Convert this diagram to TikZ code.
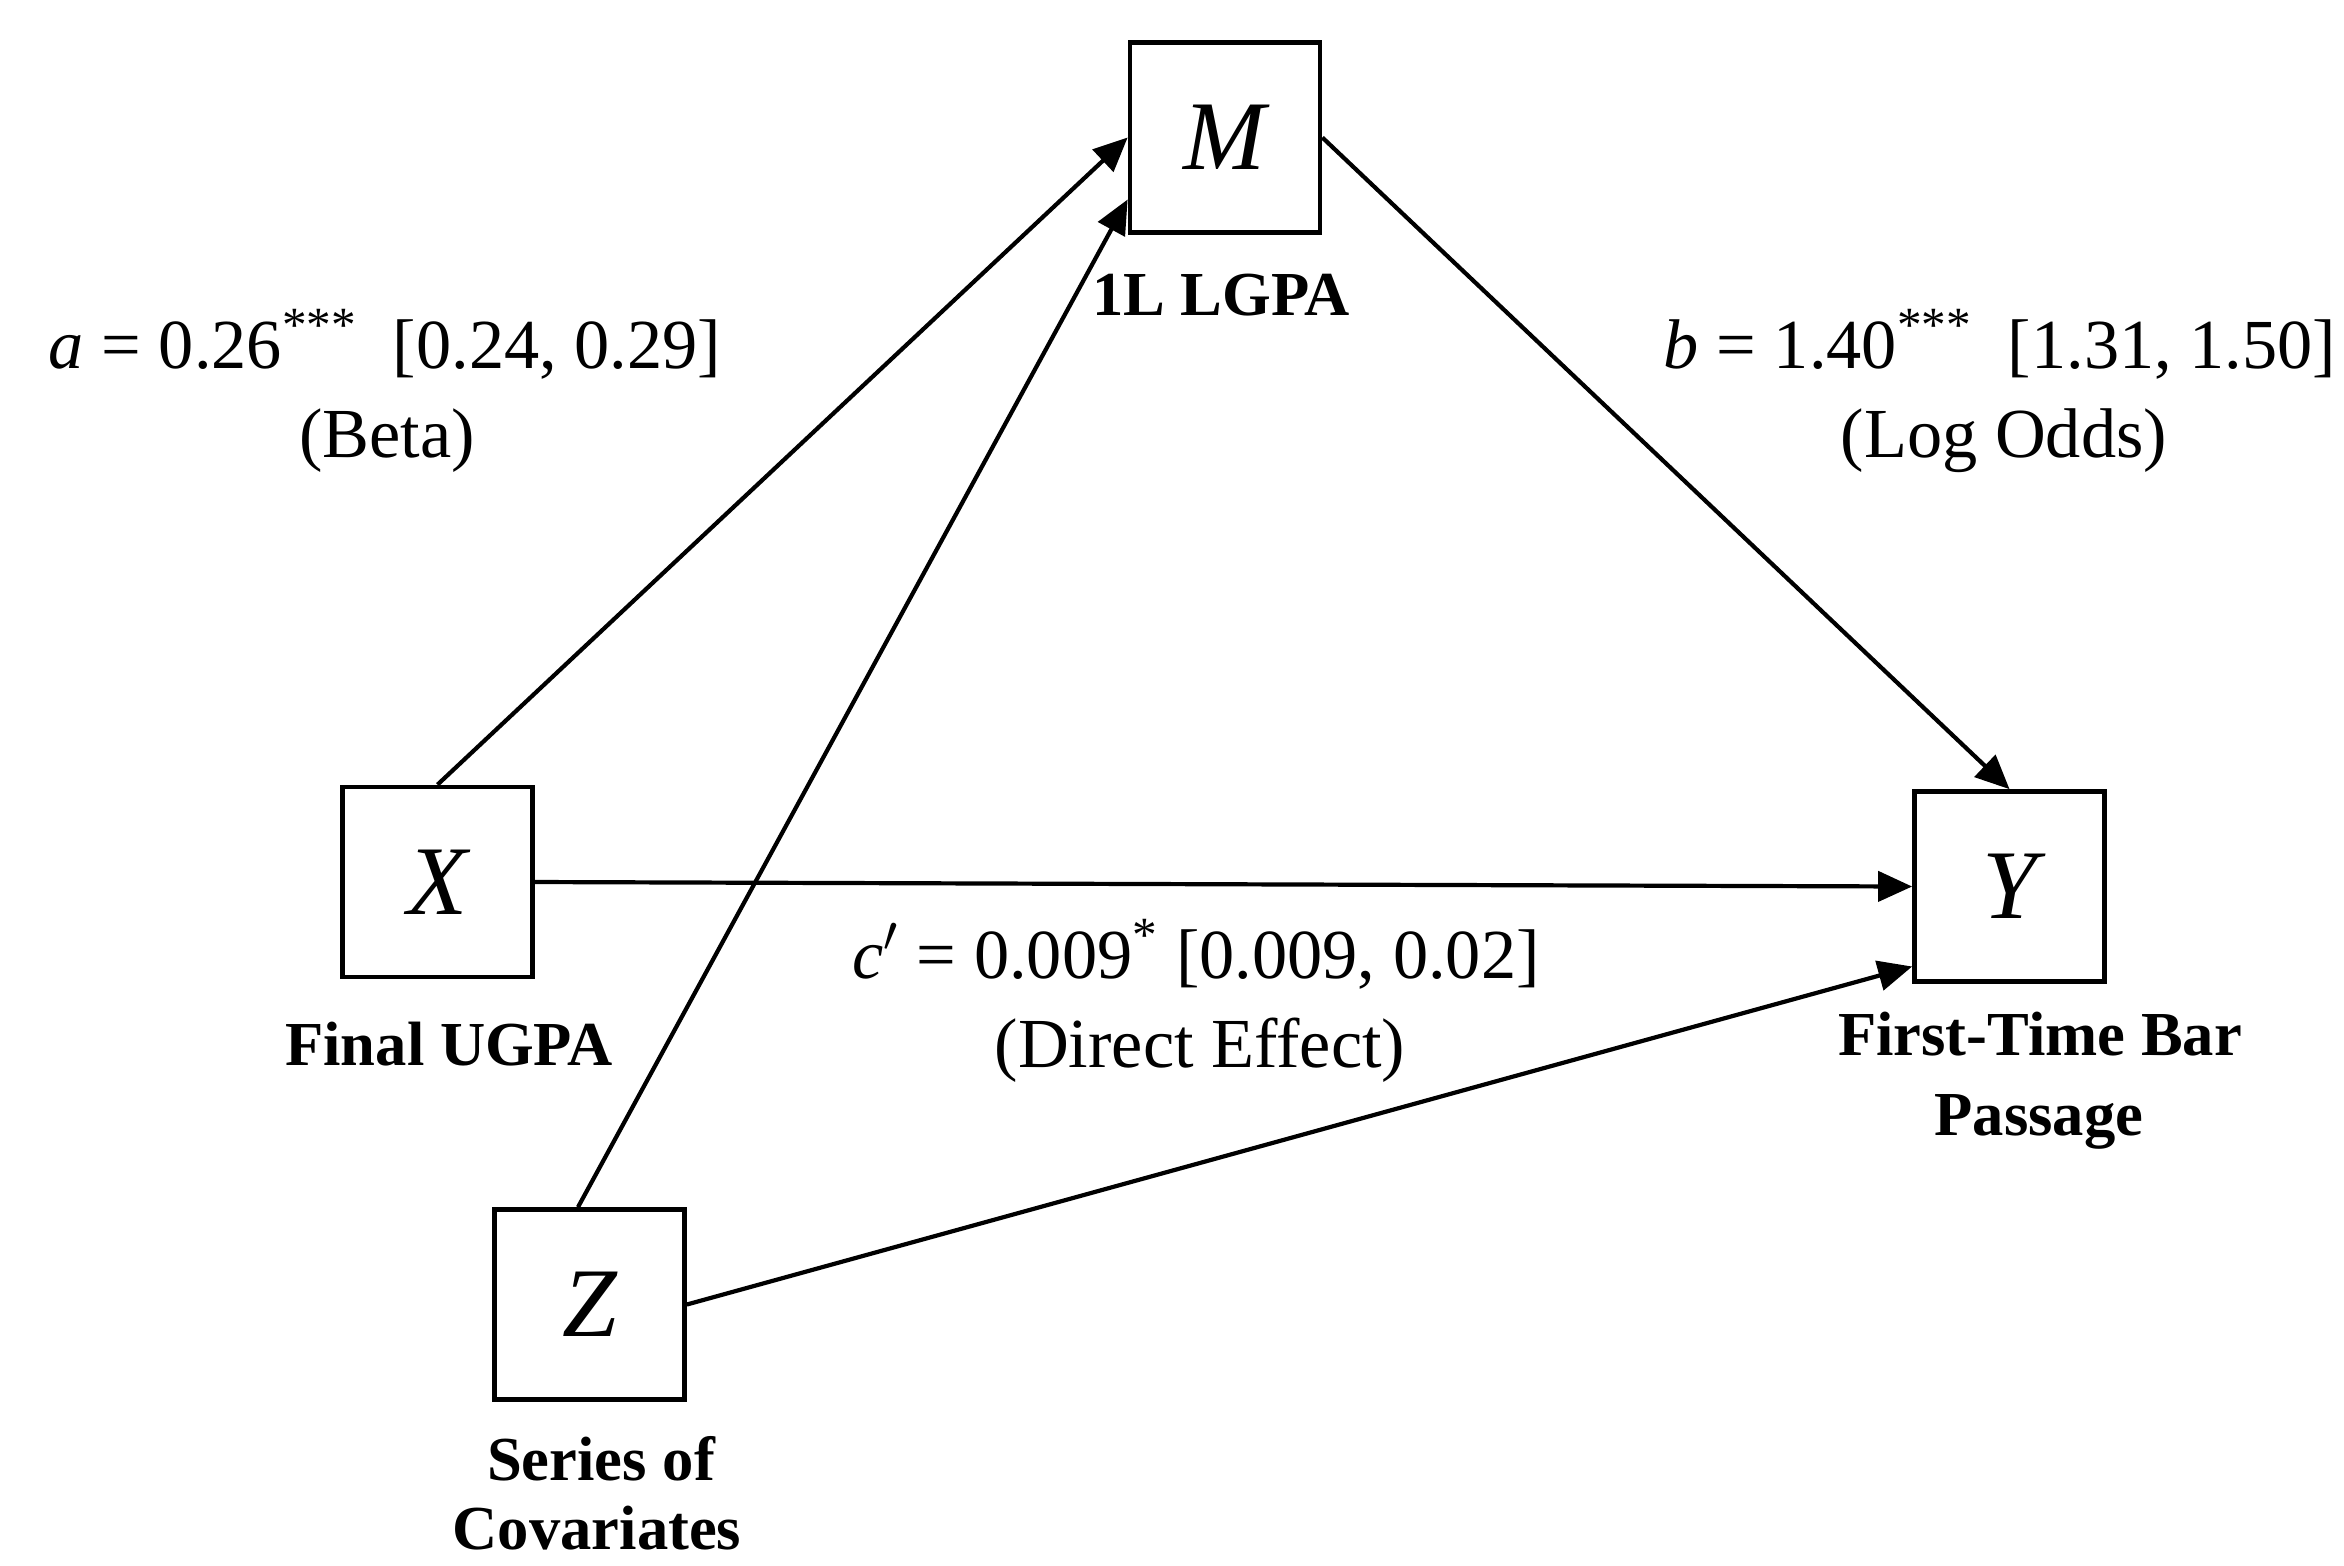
\documentclass[tikz,border=0pt]{standalone}
\usepackage{fontspec}
\setmainfont{Liberation Serif}
\usetikzlibrary{arrows.meta,calc}
\begin{document}
\begin{tikzpicture}[x=0.01cm,y=-0.01cm,
  var/.style={draw, line width=0.046cm, minimum size=1.9cm, inner sep=0pt, font=\fontsize{28}{30}\selectfont\itshape},
  lbl/.style={inner sep=0pt, anchor=base, font=\fontsize{17.8}{20}\selectfont\bfseries},
  coef/.style={inner sep=0pt, anchor=base, font=\fontsize{20}{24}\selectfont},
  link/.style={line width=0.042cm, -{Triangle[length=0.34cm,width=0.3cm]}}]
\useasboundingbox (0,0) rectangle (2344,1565);
\node[var] (M) at (1225,137.5) {M};
\node[var] (X) at (437.5,882) {X};
\node[var] (Y) at (2009.5,886.5) {Y};
\node[var] (Z) at (589.5,1304.5) {Z};
\node[lbl] (Ml) at (1221,315) {1L LGPA};
\node[lbl] (Xl) at (449,1065) {Final UGPA};
\node[lbl] (Yl1) at (2040,1055) {First-Time Bar};
\node[lbl] (Yl2) at (2039,1135) {Passage};
\node[lbl] (Zl1) at (601,1480) {Series of};
\node[lbl] (Zl2) at (597,1549) {Covariates};
\node[coef] (a1) at (385,368) {\textit{a} = 0.26\textsuperscript{***}\ \ [0.24,\ 0.29]};
\node[coef] (a2) at (387,457) {(Beta)};
\node[coef] (b1) at (2000,368) {\textit{b} = 1.40\textsuperscript{***}\ \ [1.31,\ 1.50]};
\node[coef] (b2) at (2004,457) {(Log Odds)};
\node[coef] (c1) at (1196,978) {\textit{c}$'$ = 0.009\textsuperscript{*} [0.009,\ 0.02]};
\node[coef] (c2) at (1200,1067) {(Direct Effect)};
\draw[link] (X.north) -- (M.west);
\draw[link] ([xshift=-0.115cm]Z.north) -- ($(M.west)+(0,62)$);
\draw[link] (M.east) -- (Y.north);
\draw[link] (X.east) -- (Y.west);
\draw[link] (Z.east) -- ($(Y.west)+(0,80)$);
\end{tikzpicture}
\end{document}
